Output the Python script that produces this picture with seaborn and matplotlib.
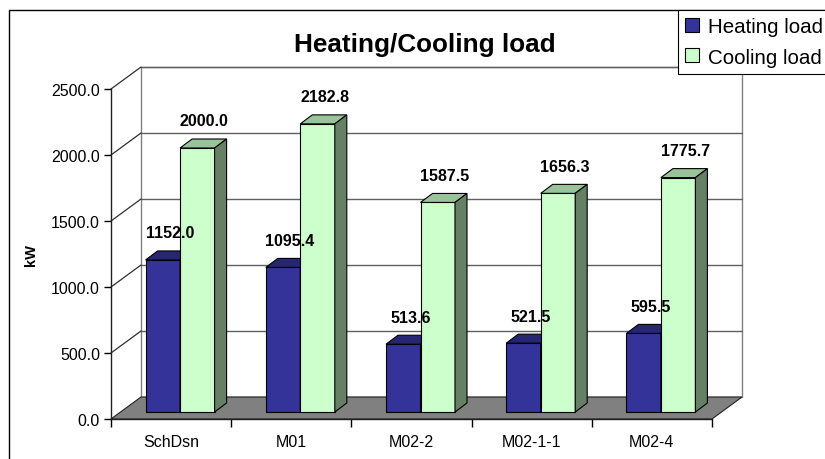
import numpy as np
import pandas as pd
import matplotlib.pyplot as plt
from matplotlib.patches import Polygon, Rectangle, Patch
import seaborn as sns

# datos del grafico
categories = ["SchDsn", "M01", "M02-2", "M02-1-1", "M02-4"]
heating = [1152.0, 1095.4, 513.6, 521.5, 595.5]
cooling = [2000.0, 2182.8, 1587.5, 1656.3, 1775.7]
series = ["Heating load", "Cooling load"]
yticks = [0, 500, 1000, 1500, 2000, 2500]

df = pd.DataFrame({
    "case": categories * 2,
    "load": heating + cooling,
    "series": [series[0]] * len(categories) + [series[1]] * len(categories),
})

# colores estilo Excel
front = ["#333399", "#CCFFCC"]
top = ["#262673", "#99C399"]
side = ["#1A1A4D", "#658065"]

sns.set_style("white")
plt.rcParams["font.family"] = ["Liberation Sans", "DejaVu Sans"]
plt.rcParams["text.color"] = "black"
plt.rcParams["axes.labelcolor"] = "black"
plt.rcParams["xtick.color"] = "black"
plt.rcParams["ytick.color"] = "black"

W, H = 825, 460
fig = plt.figure(figsize=(W / 100, H / 100), dpi=100)

# plano frontal en pixeles
left_px, bottom_px = 111, 420
cat_px = 120.2          # pixeles por categoria
val_px = 0.132          # pixeles por kW
wall = (30, 22)         # profundidad de la pared de fondo
bar_off = (9, 7)        # plano frontal de las barras
bar_depth = (12, 9)

right_px = left_px + 5 * cat_px + wall[0]
top_px = bottom_px - 2500 * val_px - wall[1]
ax = fig.add_axes([left_px / W, (H - bottom_px) / H,
                   (right_px - left_px) / W, (bottom_px - top_px) / H])


def px_x(p):
    return p / cat_px


def px_y(p):
    return p / val_px


WDX, WDY = px_x(wall[0]), px_y(wall[1])
BDX, BDY = px_x(bar_off[0]), px_y(bar_off[1])
DDX, DDY = px_x(bar_depth[0]), px_y(bar_depth[1])
n = len(categories)

sns.barplot(
    data=df, x="case", y="load", hue="series",
    palette=front, saturation=1, width=0.574,
    edgecolor="black", linewidth=0.8, legend=False, ax=ax,
)

ax.set_xlim(-0.5, n - 0.5 + WDX)
ax.set_ylim(0, 2500 + WDY)
ax.set_facecolor("none")

# pared de fondo, rejilla y suelo
ax.add_patch(Rectangle((-0.5 + WDX, WDY), n, 2500, facecolor="white",
                       edgecolor="#808080", linewidth=1, zorder=0, clip_on=False))
for v in yticks[1:]:
    ax.plot([-0.5 + WDX, n - 0.5 + WDX], [v + WDY, v + WDY],
            color="#606060", linewidth=1, zorder=0.5, clip_on=False)
    ax.plot([-0.5, -0.5 + WDX], [v, v + WDY],
            color="#303030", linewidth=0.9, zorder=0.5, clip_on=False)
ax.add_patch(Polygon([(-0.5, 0), (n - 0.5, 0), (n - 0.5 + WDX, WDY), (-0.5 + WDX, WDY)],
                     closed=True, facecolor="#808080", edgecolor="#202020",
                     linewidth=0.8, zorder=1, clip_on=False))

# barras 3D: mover la cara frontal y agregar techo y lado
for k, cont in enumerate(ax.containers):
    for p, val in zip(cont.patches, [heating, cooling][k]):
        p.set_x(p.get_x() + BDX)
        p.set_y(p.get_y() + BDY)
        p.set_zorder(3 + k)
        x, y, w, h = p.get_x(), p.get_y(), p.get_width(), p.get_height()
        ax.add_patch(Polygon([(x, y + h), (x + w, y + h), (x + w + DDX, y + h + DDY),
                              (x + DDX, y + h + DDY)], closed=True, facecolor=top[k],
                             edgecolor="black", linewidth=0.8, zorder=3 + k, clip_on=False))
        ax.add_patch(Polygon([(x + w, y), (x + w + DDX, y + DDY), (x + w + DDX, y + h + DDY),
                              (x + w, y + h)], closed=True, facecolor=side[k],
                             edgecolor="black", linewidth=0.8, zorder=3 + k, clip_on=False))
        ax.annotate(f"{val:.1f}", (x + w / 2, y + h), xytext=(7, 27),
                    textcoords="offset pixels", ha="center", va="center",
                    fontsize=11.5, fontweight="bold", zorder=10, annotation_clip=False)

# ejes frontales
sns.despine(ax=ax, top=True, right=True)
ax.spines["left"].set_bounds(0, 2500)
ax.spines["bottom"].set_bounds(-0.5, n - 0.5)
for s in ["left", "bottom"]:
    ax.spines[s].set_color("#202020")
    ax.spines[s].set_linewidth(1)
    ax.spines[s].set_zorder(2)

ax.set_yticks(yticks)
ax.set_yticklabels([f"{v:.1f}" for v in yticks], fontsize=11.5)
ax.tick_params(axis="y", length=5, width=1, pad=3, direction="out", left=True)
ax.set_xticks(range(n))
ax.set_xticklabels(categories, fontsize=11.5)
ax.set_xticks(np.arange(-0.5, n, 1), minor=True)
ax.tick_params(axis="x", which="major", length=0, pad=11)
ax.tick_params(axis="x", which="minor", length=6, width=1, direction="out", bottom=True)
ax.set_xlabel("")
ax.set_ylabel("kW", fontsize=10.5, fontweight="bold")
ax.yaxis.set_label_coords((38 - left_px) / (right_px - left_px),
                          (bottom_px - 255) / (bottom_px - top_px))

fig.text(425 / W, 1 - 45 / H, "Heating/Cooling load", ha="center", va="center",
         fontsize=18.8, fontweight="bold")

# borde del area del grafico
fig.patches.append(Rectangle((9 / W, -0.1), 1.2, (H - 11) / H + 0.1,
                             transform=fig.transFigure, fill=False,
                             edgecolor="black", linewidth=1, zorder=1))

handles = [Patch(facecolor=c, edgecolor="black", linewidth=0.8) for c in front]
leg = fig.legend(handles, series, loc="upper left", bbox_to_anchor=(678 / W, 1 - 11 / H),
                 fontsize=14.8, frameon=True, fancybox=False, framealpha=1,
                 edgecolor="black", borderpad=0.35, borderaxespad=0,
                 handlelength=0.65, handleheight=0.65, handletextpad=0.45,
                 labelspacing=0.55)
leg.get_frame().set_linewidth(0.8)
leg.set_zorder(5)

fig.savefig("out.png", dpi=100)
